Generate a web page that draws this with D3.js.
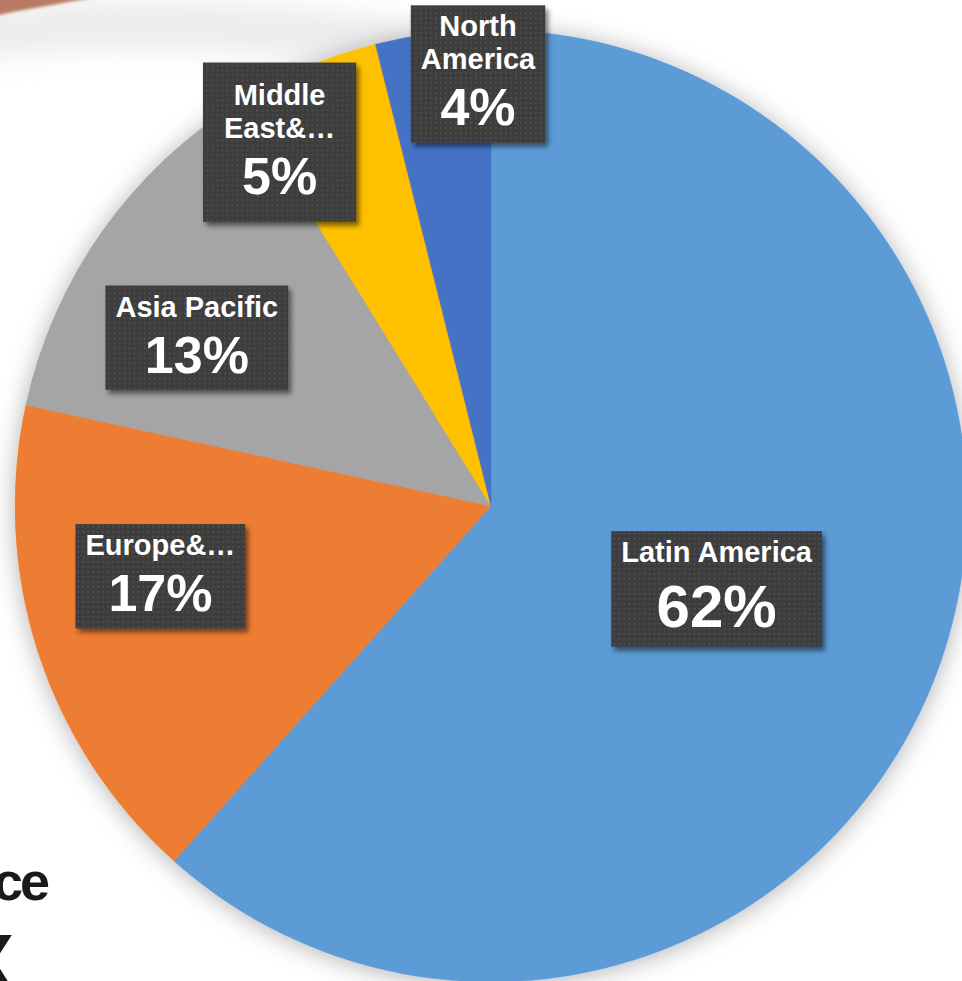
<!DOCTYPE html>
<html>
<head>
<meta charset="utf-8">
<script src="https://cdn.jsdelivr.net/npm/d3@7"></script>
<style>
  html, body { margin: 0; padding: 0; background: #fff; overflow: hidden; }
  svg { display: block; font-family: "Liberation Sans", Arial, sans-serif; }
</style>
</head>
<body>
<svg id="pie"></svg>
<script>
// data
var regions = ["Latin America", "Europe&…", "Asia Pacific", "Middle East&…", "North America"];
var shares = [61.6, 16.8, 12.8, 4.9, 3.9];
var labelLines = [["Latin America"], ["Europe&…"], ["Asia Pacific"], ["Middle", "East&…"], ["North", "America"]];
var colors = ["#5B9BD5", "#ED7D31", "#A5A5A5", "#FFC000", "#4472C4"];

// label placement: fraction of radius, angle nudge (deg), extra padding, pct font
var labelRadius = [0.505, 0.71, 0.712, 0.884, 0.908];
var labelNudge = [-0.7, 6, -5.5, -7.3, 5.3];
var labelPadX = [10, 10, 10, 21, 10];
var labelPadY = [0, 0, 0, 11, 0];
var pctFont = [60, 52, 52, 52, 52];

(function pieChart() {
    var width = 962, height = 981,
        cx = 491, cy = 506, radius = 476,
        nameFont = 29;

    var svg = d3.select("#pie").attr("width", width).attr("height", height);
    var defs = svg.append("defs");

    // soft glow under the pie
    var glow = defs.append("filter").attr("id", "pieShadow")
        .attr("x", "-20%").attr("y", "-20%").attr("width", "140%").attr("height", "140%");
    glow.append("feDropShadow").attr("dx", 0).attr("dy", 2)
        .attr("stdDeviation", 12).attr("flood-color", "#000").attr("flood-opacity", 0.3);

    var boxShadow = defs.append("filter").attr("id", "boxShadow")
        .attr("x", "-20%").attr("y", "-20%").attr("width", "140%").attr("height", "140%");
    boxShadow.append("feDropShadow").attr("dx", 3).attr("dy", 4)
        .attr("stdDeviation", 2.5).attr("flood-color", "#000").attr("flood-opacity", 0.5);

    var dots = defs.append("pattern").attr("id", "dots")
        .attr("width", 5).attr("height", 5).attr("patternUnits", "userSpaceOnUse");
    dots.append("rect").attr("width", 5).attr("height", 5).attr("fill", "#3d3d3d");
    dots.append("rect").attr("x", 2).attr("y", 2).attr("width", 1.5).attr("height", 1.5).attr("fill", "#585858");

    // slide background leftovers (top-left swoosh, cut-off title)
    var bg = svg.append("g");
    bg.append("path")
        .attr("d", "M-30,10 C120,-10 320,0 520,40 L520,90 C320,50 120,40 -30,60 Z")
        .attr("fill", "#ececec").style("filter", "blur(14px)");
    bg.append("path")
        .attr("d", "M-5,-5 L110,-5 C70,2 30,8 -5,16 Z")
        .attr("fill", "#b87a62").style("filter", "blur(1.5px)");
    bg.append("text").attr("x", 47).attr("y", 900).attr("text-anchor", "end")
        .attr("font-size", 54).attr("font-weight", "bold").attr("letter-spacing", -3)
        .attr("fill", "#1a1a1a").text("ce");
    bg.append("text").attr("x", 14).attr("y", 990).attr("text-anchor", "end")
        .attr("font-size", 80).attr("font-weight", "bold")
        .attr("fill", "#1a1a1a").text("X");

    var data = regions.map(function (r, i) {
        return {region: r, share: shares[i], lines: labelLines[i], color: colors[i], i: i};
    });

    var pie = d3.pie().sort(null).value(function (d) { return d.share; });
    var arc = d3.arc().innerRadius(0).outerRadius(radius);
    var arcs = pie(data);

    var g = svg.append("g").attr("transform", "translate(" + cx + "," + cy + ")");

    g.append("g").attr("filter", "url(#pieShadow)")
        .selectAll("path")
        .data(arcs)
        .enter().append("path")
        .attr("d", arc)
        .attr("fill", function (d) { return d.data.color; })
        .attr("stroke", function (d) { return d.data.color; })
        .attr("stroke-width", 0.5);

    var total = d3.sum(shares);
    var fmt = function (v) { return Math.round(v / total * 100) + "%"; };

    var labels = g.append("g").selectAll("g")
        .data(arcs)
        .enter().append("g");

    labels.each(function (d) {
        var i = d.data.i,
            sel = d3.select(this),
            a = (d.startAngle + d.endAngle) / 2 + labelNudge[i] * Math.PI / 180,
            r = labelRadius[i] * radius,
            px = r * Math.sin(a),
            py = -r * Math.cos(a),
            pf = pctFont[i];

        var rect = sel.append("rect");
        var txt = sel.append("g").attr("fill", "#fff").attr("font-weight", "bold")
            .attr("text-anchor", "middle");

        var top = labelPadY[i];
        var y = top + 31, baselines = [];
        d.data.lines.forEach(function (line, k) {
            if (k > 0) y += 33;
            baselines.push(y);
        });
        var pctY = y + pf * 1.08;
        var bottom = pctY + pf * 0.33 + labelPadY[i];

        var maxW = 0;
        d.data.lines.forEach(function (line, k) {
            var t = txt.append("text").attr("x", 0).attr("y", baselines[k])
                .attr("font-size", nameFont).text(line);
            maxW = Math.max(maxW, t.node().getComputedTextLength());
        });
        var p = txt.append("text").attr("x", 0).attr("y", pctY)
            .attr("font-size", pf).text(fmt(d.data.share));
        maxW = Math.max(maxW, p.node().getComputedTextLength());

        var w = maxW + 2 * labelPadX[i], h = bottom;
        rect.attr("x", -w / 2).attr("y", 0).attr("width", w).attr("height", h)
            .attr("fill", "url(#dots)").attr("filter", "url(#boxShadow)");

        sel.attr("transform", "translate(" + px + "," + (py - h / 2) + ")");
    });
}());
</script>
</body>
</html>
